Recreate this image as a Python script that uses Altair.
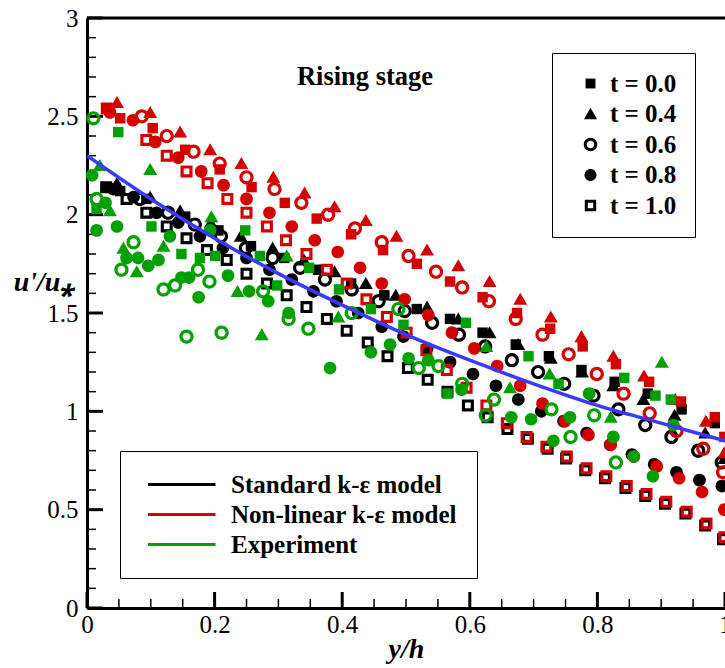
import altair as alt
import pandas as pd

# ---------------- data ----------------
MODELS = ["Standard k-ε model", "Non-linear k-ε model", "Experiment"]
T_LABELS = ["t = 0.0", "t = 0.4", "t = 0.6", "t = 0.8", "t = 1.0"]

# Standard k-epsilon model (black)
std_t00_x = [0.031, 0.052, 0.093, 0.154, 0.206, 0.257, 0.309, 0.362, 0.414, 0.466, 0.517, 0.569, 0.620, 0.672, 0.724, 0.775, 0.827, 0.879, 0.932, 0.984]
std_t00_y = [2.14, 2.12, 2.08, 1.99, 1.92, 1.84, 1.78, 1.72, 1.65, 1.59, 1.52, 1.47, 1.40, 1.34, 1.28, 1.21, 1.15, 1.09, 1.01, 0.94]
std_t04_x = [0.047, 0.099, 0.146, 0.194, 0.241, 0.291, 0.340, 0.388, 0.437, 0.484, 0.533, 0.582, 0.631, 0.676, 0.727, 0.776, 0.825, 0.872, 0.921, 0.969, 0.999]
std_t04_y = [2.16, 2.09, 2.02, 1.96, 1.89, 1.83, 1.77, 1.71, 1.65, 1.59, 1.53, 1.47, 1.40, 1.34, 1.27, 1.20, 1.13, 1.06, 0.98, 0.89, 0.76]
std_t06_x = [0.083, 0.127, 0.169, 0.210, 0.249, 0.291, 0.334, 0.373, 0.415, 0.457, 0.498, 0.541, 0.583, 0.624, 0.666, 0.707, 0.748, 0.794, 0.833, 0.875, 0.916, 0.958, 0.995]
std_t06_y = [2.08, 2.01, 1.95, 1.89, 1.83, 1.78, 1.73, 1.67, 1.62, 1.56, 1.51, 1.45, 1.39, 1.33, 1.26, 1.20, 1.14, 1.08, 1.01, 0.93, 0.87, 0.80, 0.74]
std_t08_x = [0.041, 0.073, 0.109, 0.143, 0.177, 0.213, 0.250, 0.286, 0.321, 0.355, 0.391, 0.425, 0.462, 0.496, 0.533, 0.569, 0.605, 0.641, 0.676, 0.712, 0.747, 0.783, 0.820, 0.854, 0.889, 0.924, 0.960, 0.995]
std_t08_y = [2.13, 2.09, 2.01, 1.96, 1.89, 1.83, 1.78, 1.72, 1.67, 1.61, 1.56, 1.50, 1.43, 1.38, 1.32, 1.25, 1.19, 1.13, 1.06, 1.00, 0.95, 0.89, 0.83, 0.78, 0.73, 0.69, 0.65, 0.62]
std_t10_x = [0.030, 0.062, 0.093, 0.125, 0.156, 0.188, 0.219, 0.250, 0.282, 0.313, 0.344, 0.376, 0.407, 0.440, 0.471, 0.503, 0.534, 0.565, 0.597, 0.628, 0.659, 0.691, 0.722, 0.751, 0.781, 0.812, 0.844, 0.875, 0.906, 0.938, 0.969, 0.997]
std_t10_y = [2.14, 2.08, 2.01, 1.94, 1.88, 1.82, 1.77, 1.70, 1.65, 1.59, 1.53, 1.47, 1.41, 1.35, 1.28, 1.22, 1.16, 1.10, 1.03, 0.97, 0.91, 0.86, 0.81, 0.76, 0.70, 0.66, 0.61, 0.57, 0.53, 0.48, 0.42, 0.35]

# Non-linear k-epsilon model (red)
nl_t00_x = [0.031, 0.052, 0.103, 0.154, 0.208, 0.258, 0.310, 0.360, 0.414, 0.464, 0.517, 0.569, 0.620, 0.674, 0.726, 0.777, 0.829, 0.881, 0.931, 0.984, 0.999]
nl_t00_y = [2.54, 2.49, 2.44, 2.33, 2.23, 2.14, 2.06, 1.98, 1.90, 1.82, 1.75, 1.66, 1.58, 1.50, 1.42, 1.33, 1.24, 1.15, 1.05, 0.97, 0.87]
nl_t04_x = [0.047, 0.099, 0.146, 0.193, 0.242, 0.292, 0.341, 0.388, 0.437, 0.485, 0.533, 0.582, 0.631, 0.679, 0.727, 0.775, 0.825, 0.873, 0.922, 0.970, 0.999]
nl_t04_y = [2.57, 2.52, 2.42, 2.33, 2.26, 2.19, 2.11, 2.04, 1.97, 1.89, 1.82, 1.74, 1.66, 1.57, 1.48, 1.38, 1.28, 1.18, 1.06, 0.95, 0.79]
nl_t06_x = [0.086, 0.125, 0.167, 0.208, 0.250, 0.294, 0.336, 0.378, 0.420, 0.462, 0.504, 0.547, 0.588, 0.630, 0.672, 0.714, 0.755, 0.799, 0.841, 0.882, 0.924, 0.966, 0.997]
nl_t06_y = [2.50, 2.40, 2.32, 2.26, 2.19, 2.13, 2.06, 2.00, 1.93, 1.86, 1.79, 1.71, 1.63, 1.56, 1.47, 1.39, 1.29, 1.19, 1.09, 0.99, 0.90, 0.81, 0.69]
nl_t08_x = [0.036, 0.072, 0.107, 0.143, 0.179, 0.214, 0.250, 0.286, 0.321, 0.357, 0.393, 0.428, 0.462, 0.498, 0.535, 0.572, 0.607, 0.643, 0.679, 0.714, 0.749, 0.786, 0.821, 0.857, 0.893, 0.928, 0.964, 0.999]
nl_t08_y = [2.52, 2.48, 2.37, 2.29, 2.22, 2.15, 2.08, 2.01, 1.94, 1.87, 1.81, 1.73, 1.65, 1.57, 1.49, 1.40, 1.32, 1.23, 1.13, 1.04, 0.95, 0.88, 0.83, 0.77, 0.72, 0.66, 0.59, 0.50]
nl_t10_x = [0.031, 0.093, 0.125, 0.156, 0.189, 0.220, 0.250, 0.282, 0.312, 0.344, 0.376, 0.407, 0.438, 0.470, 0.501, 0.532, 0.564, 0.595, 0.626, 0.658, 0.689, 0.720, 0.752, 0.783, 0.814, 0.846, 0.877, 0.908, 0.940, 0.971, 0.999]
nl_t10_y = [2.54, 2.38, 2.30, 2.22, 2.16, 2.08, 2.01, 1.94, 1.87, 1.80, 1.72, 1.65, 1.57, 1.48, 1.40, 1.31, 1.21, 1.12, 1.03, 0.94, 0.87, 0.82, 0.77, 0.71, 0.67, 0.62, 0.58, 0.54, 0.49, 0.43, 0.36]

# Experiment (green)
exp_t00_x = [0.015, 0.049, 0.101, 0.148, 0.177, 0.201, 0.248, 0.271, 0.298, 0.348, 0.395, 0.445, 0.496, 0.565, 0.594, 0.692, 0.739, 0.842, 0.891, 0.915]
exp_t00_y = [2.03, 2.42, 1.94, 1.80, 1.78, 1.79, 1.92, 1.79, 1.64, 1.73, 1.62, 1.52, 1.44, 1.09, 1.45, 1.28, 1.14, 1.17, 1.08, 1.06]
exp_t04_x = [0.020, 0.036, 0.057, 0.078, 0.099, 0.120, 0.195, 0.236, 0.274, 0.313, 0.394, 0.626, 0.663, 0.725, 0.821, 0.901]
exp_t04_y = [2.25, 2.02, 1.83, 1.71, 2.23, 1.84, 1.99, 1.61, 1.39, 1.79, 1.48, 1.33, 1.12, 1.19, 0.97, 1.25]
exp_t06_x = [0.010, 0.015, 0.054, 0.073, 0.120, 0.138, 0.156, 0.174, 0.192, 0.211, 0.276, 0.316, 0.347, 0.415, 0.488, 0.520, 0.551, 0.588, 0.625, 0.638, 0.728, 0.758, 0.795, 0.829]
exp_t06_y = [2.49, 2.08, 1.72, 1.86, 1.62, 1.64, 1.38, 1.72, 1.66, 1.40, 1.61, 1.47, 1.42, 1.50, 1.52, 1.22, 1.23, 1.14, 0.98, 1.06, 1.01, 0.87, 0.98, 0.74]
exp_t08_x = [0.008, 0.029, 0.015, 0.047, 0.062, 0.080, 0.096, 0.112, 0.130, 0.148, 0.160, 0.175, 0.193, 0.221, 0.254, 0.284, 0.316, 0.381, 0.445, 0.475, 0.504, 0.535, 0.587, 0.665, 0.696, 0.731, 0.757, 0.787, 0.825, 0.857, 0.887, 0.919]
exp_t08_y = [2.20, 2.06, 1.92, 1.94, 1.78, 1.78, 1.74, 1.77, 1.89, 1.68, 1.68, 1.58, 1.92, 1.69, 1.61, 1.56, 1.50, 1.22, 1.30, 1.34, 1.27, 1.26, 1.11, 0.97, 0.96, 0.85, 0.97, 1.09, 0.87, 0.77, 0.67, 0.93]

# Blue reference curve
curve_x = [0.0, 0.1, 0.2, 0.3, 0.4, 0.5, 0.6, 0.7, 0.8, 0.9, 1.0]
curve_y = [2.30, 2.08, 1.88, 1.70, 1.54, 1.39, 1.26, 1.14, 1.03, 0.94, 0.85]

# axis ticks
X_MAJOR = [0, 0.2, 0.4, 0.6, 0.8, 1.0]
X_MINOR = [0.05, 0.1, 0.15, 0.25, 0.3, 0.35, 0.45, 0.5, 0.55, 0.65, 0.7, 0.75, 0.85, 0.9, 0.95]
Y_MAJOR = [0, 0.5, 1, 1.5, 2, 2.5, 3]
Y_MINOR = [0.1, 0.2, 0.3, 0.4, 0.6, 0.7, 0.8, 0.9, 1.1, 1.2, 1.3, 1.4, 1.6, 1.7, 1.8, 1.9,
           2.1, 2.2, 2.3, 2.4, 2.6, 2.7, 2.8, 2.9]

STAGE = ["Rising stage"]

SERIES = [
    (MODELS[0], T_LABELS[0], std_t00_x, std_t00_y),
    (MODELS[0], T_LABELS[1], std_t04_x, std_t04_y),
    (MODELS[0], T_LABELS[2], std_t06_x, std_t06_y),
    (MODELS[0], T_LABELS[3], std_t08_x, std_t08_y),
    (MODELS[0], T_LABELS[4], std_t10_x, std_t10_y),
    (MODELS[1], T_LABELS[0], nl_t00_x, nl_t00_y),
    (MODELS[1], T_LABELS[1], nl_t04_x, nl_t04_y),
    (MODELS[1], T_LABELS[2], nl_t06_x, nl_t06_y),
    (MODELS[1], T_LABELS[3], nl_t08_x, nl_t08_y),
    (MODELS[1], T_LABELS[4], nl_t10_x, nl_t10_y),
    (MODELS[2], T_LABELS[0], exp_t00_x, exp_t00_y),
    (MODELS[2], T_LABELS[1], exp_t04_x, exp_t04_y),
    (MODELS[2], T_LABELS[2], exp_t06_x, exp_t06_y),
    (MODELS[2], T_LABELS[3], exp_t08_x, exp_t08_y),
]

rows = []
for model, t, xs, ys in SERIES:
    for xv, yv in zip(xs, ys):
        rows.append({"x": xv, "y": yv, "model": model, "t": t})
pts = pd.DataFrame(rows)
pts["order"] = range(len(pts))

# ---------------- styling ----------------
W, H = 638, 590
FONT = "Liberation Serif"
COLORS = ["#000000", "#d40000", "#00a000"]


def circle_path(r):
    return f"M{-r},0A{r},{r},0,1,0,{r},0A{r},{r},0,1,0,{-r},0Z"


def circle_hole(r):
    return f"M{-r},0A{r},{r},0,1,1,{r},0A{r},{r},0,1,1,{-r},0Z"


SQ_FILLED = "M-0.66,-0.66L0.66,-0.66L0.66,0.66L-0.66,0.66Z"
TRIANGLE = "M0,-0.82L0.88,0.7L-0.88,0.7Z"
RING_CIRCLE = circle_path(0.9) + circle_hole(0.5)
DOT = circle_path(0.8)
RING_SQUARE = "M-0.76,-0.76L0.76,-0.76L0.76,0.76L-0.76,0.76ZM-0.36,-0.36L-0.36,0.36L0.36,0.36L0.36,-0.36Z"
SHAPES = [SQ_FILLED, TRIANGLE, RING_CIRCLE, DOT, RING_SQUARE]
MARK_SIZE = 250
LINE_SYMBOL = "M-1,-0.12L4,-0.12L4,0.12L-1,0.12Z"
PAD1 = "\u00a0"
PAD3 = "\u00a0\u00a0\u00a0"

xscale = alt.Scale(domain=[0, 1], nice=False, zero=False)
yscale = alt.Scale(domain=[0, 3], nice=False, zero=False)

x_axis = alt.Axis(values=X_MAJOR, format="~g", ticks=False, grid=False,
                  domainWidth=3, domainColor="black", labelFont=FONT,
                  labelFontSize=25, labelColor="black", labelPadding=4,
                  labelFlush=False, labelOverlap=False, labelBound=False,
                  title="y/h", titleFont=FONT, titleFontSize=28,
                  titleFontStyle="italic", titleFontWeight="bold",
                  titleColor="black", titleX=319, titleY=49,
                  titleAlign="center", titleBaseline="alphabetic")
y_axis = alt.Axis(values=Y_MAJOR, format="~g", ticks=False, grid=False,
                  domainWidth=3, domainColor="black", labelFont=FONT,
                  labelFontSize=25, labelColor="black", labelPadding=9,
                  labelFlush=False, labelOverlap=False, labelBound=False,
                  title="u'/u⁎", titleFont=FONT, titleFontSize=28,
                  titleFontStyle="italic", titleFontWeight="bold",
                  titleColor="black", titleAngle=0, titleX=-43, titleY=264,
                  titleAlign="center", titleBaseline="middle")

points = alt.Chart(pts).mark_point(filled=True, opacity=1, strokeWidth=0, size=MARK_SIZE).encode(
    x=alt.X("x:Q", scale=xscale, axis=x_axis),
    y=alt.Y("y:Q", scale=yscale, axis=y_axis),
    color=alt.Color("model:N", scale=alt.Scale(domain=MODELS, range=COLORS),
                    legend=alt.Legend(title=None, orient="none", direction="vertical",
                                      legendX=33, legendY=433,
                                      symbolType=LINE_SYMBOL, symbolSize=729,
                                      symbolStrokeWidth=0, symbolOpacity=1,
                                      symbolOffset=8,
                                      labelFont=FONT, labelFontSize=25,
                                      labelFontWeight="bold", labelColor="black",
                                      labelOffset=56, labelLimit=400, rowPadding=3,
                                      labelExpr=f"datum.label + '{PAD3}'",
                                      strokeColor="black", fillColor="white",
                                      padding=20)),
    shape=alt.Shape("t:N", scale=alt.Scale(domain=T_LABELS, range=SHAPES),
                    legend=alt.Legend(title=None, orient="none", direction="vertical",
                                      legendX=465, legendY=35,
                                      symbolFillColor="black", symbolStrokeWidth=0,
                                      symbolSize=225, symbolOpacity=1,
                                      symbolOffset=8,
                                      labelFont=FONT, labelFontSize=25,
                                      labelFontWeight="bold", labelColor="black",
                                      labelOffset=7, rowPadding=4.5,
                                      labelExpr=f"datum.label + '{PAD1}'",
                                      strokeColor="black", fillColor="white",
                                      padding=18)),
    order=alt.Order("order:Q"),
)

curve = alt.Chart(pd.DataFrame({"x": curve_x, "y": curve_y})).mark_line(
    color="#3a3aff", strokeWidth=3.5, interpolate="monotone", clip=True
).encode(x=alt.X("x:Q", scale=xscale), y=alt.Y("y:Q", scale=yscale))

xt_major = alt.Chart(pd.DataFrame({"x": X_MAJOR})).mark_rule(color="black", strokeWidth=3).encode(
    x=alt.X("x:Q", scale=xscale), y=alt.value(H), y2=alt.value(H - 16))
xt_minor = alt.Chart(pd.DataFrame({"x": X_MINOR})).mark_rule(color="black", strokeWidth=1.5).encode(
    x=alt.X("x:Q", scale=xscale), y=alt.value(H), y2=alt.value(H - 9))
yt_major = alt.Chart(pd.DataFrame({"y": Y_MAJOR})).mark_rule(color="black", strokeWidth=3).encode(
    y=alt.Y("y:Q", scale=yscale), x=alt.value(0), x2=alt.value(16))
yt_minor = alt.Chart(pd.DataFrame({"y": Y_MINOR})).mark_rule(color="black", strokeWidth=1.5).encode(
    y=alt.Y("y:Q", scale=yscale), x=alt.value(0), x2=alt.value(9))
top_border = alt.Chart(pd.DataFrame({"y": [3]})).mark_rule(color="black", strokeWidth=3).encode(
    y=alt.Y("y:Q", scale=yscale), x=alt.value(0), x2=alt.value(W))

stage = alt.Chart(pd.DataFrame({"label": STAGE})).mark_text(
    font=FONT, fontSize=26.5, fontWeight="bold", color="black",
    align="center", baseline="alphabetic"
).encode(text="label:N", x=alt.value(278), y=alt.value(67))

chart = alt.layer(
    xt_major, xt_minor, yt_major, yt_minor, top_border, points, curve, stage
).properties(
    width=W, height=H,
    autosize=alt.AutoSizeParams(type="none"),
    padding={"left": 87, "top": 18, "right": 0, "bottom": 60},
).configure_view(stroke=None).configure(background="white")

chart.save("out.html", embed_options={"renderer": "svg", "actions": False})
